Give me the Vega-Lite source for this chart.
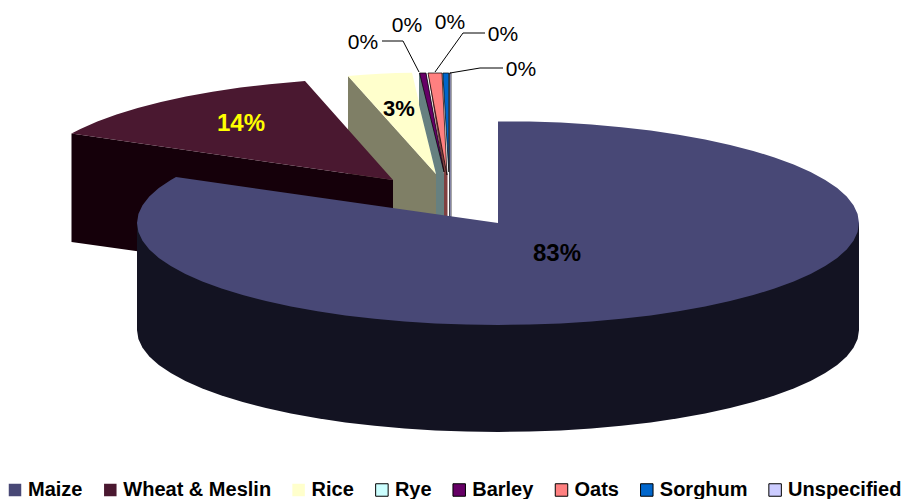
{
  "$schema": "https://vega.github.io/schema/vega-lite/v6.json",
  "width": 904,
  "height": 499,
  "padding": 0,
  "autosize": {"type": "none"},
  "background": "white",
  "config": {"view": {"stroke": null}},
  "datasets": {
    "outlines": [
      {"piece":"Rice side","seq":1,"x":348,"y":76},{"piece":"Rice side","seq":2,"x":436,"y":174},{"piece":"Rice side","seq":3,"x":436,"y":281},{"piece":"Rice side","seq":4,"x":348,"y":183},
      {"piece":"Rice","seq":1,"x":348,"y":76},{"piece":"Rice","seq":2,"x":364,"y":74.7},{"piece":"Rice","seq":3,"x":380,"y":73.7},{"piece":"Rice","seq":4,"x":396,"y":73},{"piece":"Rice","seq":5,"x":412,"y":72.7},{"piece":"Rice","seq":6,"x":436,"y":174},
      {"piece":"Wheat & Meslin side","seq":1,"x":71.5,"y":133.5},{"piece":"Wheat & Meslin side","seq":2,"x":393,"y":180},{"piece":"Wheat & Meslin side","seq":3,"x":393,"y":287},{"piece":"Wheat & Meslin side","seq":4,"x":71.5,"y":242},
      {"piece":"Wheat & Meslin","seq":1,"x":71.5,"y":133.5},{"piece":"Wheat & Meslin","seq":2,"x":80.4,"y":129},{"piece":"Wheat & Meslin","seq":3,"x":97.3,"y":121.5},{"piece":"Wheat & Meslin","seq":4,"x":116.5,"y":114.4},{"piece":"Wheat & Meslin","seq":5,"x":137.7,"y":107.9},{"piece":"Wheat & Meslin","seq":6,"x":160.9,"y":101.9},{"piece":"Wheat & Meslin","seq":7,"x":185.9,"y":96.4},{"piece":"Wheat & Meslin","seq":8,"x":212.5,"y":91.7},{"piece":"Wheat & Meslin","seq":9,"x":240.4,"y":87.6},{"piece":"Wheat & Meslin","seq":10,"x":269.5,"y":84.2},{"piece":"Wheat & Meslin","seq":11,"x":299.6,"y":81.5},{"piece":"Wheat & Meslin","seq":12,"x":305,"y":81},{"piece":"Wheat & Meslin","seq":13,"x":393,"y":180},
      {"piece":"Rye","seq":1,"x":419,"y":73},{"piece":"Rye","seq":2,"x":424,"y":73},{"piece":"Rye","seq":3,"x":436,"y":174},
      {"piece":"Rye side","seq":1,"x":419,"y":73},{"piece":"Rye side","seq":2,"x":419,"y":105},{"piece":"Rye side","seq":3,"x":436,"y":174},{"piece":"Rye side","seq":4,"x":436,"y":216},{"piece":"Rye side","seq":5,"x":444,"y":216},{"piece":"Rye side","seq":6,"x":444,"y":174},{"piece":"Rye side","seq":7,"x":426,"y":73},
      {"piece":"Oats side","seq":1,"x":428,"y":73},{"piece":"Oats side","seq":2,"x":430,"y":73},{"piece":"Oats side","seq":3,"x":447.5,"y":175},{"piece":"Oats side","seq":4,"x":447.5,"y":217},{"piece":"Oats side","seq":5,"x":444,"y":217},{"piece":"Oats side","seq":6,"x":444,"y":174},
      {"piece":"Barley","seq":1,"x":419.5,"y":73},{"piece":"Barley","seq":2,"x":426,"y":73},{"piece":"Barley","seq":3,"x":444,"y":172},{"piece":"Barley","seq":4,"x":419.5,"y":73},
      {"piece":"Oats","seq":1,"x":428,"y":73},{"piece":"Oats","seq":2,"x":442,"y":73},{"piece":"Oats","seq":3,"x":447,"y":175},{"piece":"Oats","seq":4,"x":428,"y":73},
      {"piece":"Sorghum","seq":1,"x":442.8,"y":73},{"piece":"Sorghum","seq":2,"x":448.8,"y":73},{"piece":"Sorghum","seq":3,"x":448.8,"y":172},{"piece":"Sorghum","seq":4,"x":442.8,"y":73},
      {"piece":"Unspecified","seq":1,"x":449.5,"y":73},{"piece":"Unspecified","seq":2,"x":451,"y":73},{"piece":"Unspecified","seq":3,"x":451,"y":217},{"piece":"Unspecified","seq":4,"x":449.5,"y":217},{"piece":"Unspecified","seq":5,"x":449.5,"y":73},
      {"piece":"Maize side","seq":1,"x":859,"y":223},{"piece":"Maize side","seq":2,"x":859,"y":330},{"piece":"Maize side","seq":3,"x":857.6,"y":338.9},{"piece":"Maize side","seq":4,"x":853.5,"y":347.7},{"piece":"Maize side","seq":5,"x":846.7,"y":356.4},{"piece":"Maize side","seq":6,"x":837.2,"y":364.9},{"piece":"Maize side","seq":7,"x":825.2,"y":373.1},{"piece":"Maize side","seq":8,"x":810.6,"y":381},{"piece":"Maize side","seq":9,"x":793.7,"y":388.5},{"piece":"Maize side","seq":10,"x":774.5,"y":395.6},{"piece":"Maize side","seq":11,"x":753.3,"y":402.1},{"piece":"Maize side","seq":12,"x":730.1,"y":408.1},{"piece":"Maize side","seq":13,"x":705.1,"y":413.6},{"piece":"Maize side","seq":14,"x":678.5,"y":418.3},{"piece":"Maize side","seq":15,"x":650.6,"y":422.4},{"piece":"Maize side","seq":16,"x":621.5,"y":425.8},{"piece":"Maize side","seq":17,"x":591.4,"y":428.5},{"piece":"Maize side","seq":18,"x":560.7,"y":430.4},{"piece":"Maize side","seq":19,"x":529.5,"y":431.6},{"piece":"Maize side","seq":20,"x":498,"y":432},{"piece":"Maize side","seq":21,"x":466.5,"y":431.6},{"piece":"Maize side","seq":22,"x":435.3,"y":430.4},{"piece":"Maize side","seq":23,"x":404.6,"y":428.5},{"piece":"Maize side","seq":24,"x":374.5,"y":425.8},{"piece":"Maize side","seq":25,"x":345.4,"y":422.4},{"piece":"Maize side","seq":26,"x":317.5,"y":418.3},{"piece":"Maize side","seq":27,"x":290.9,"y":413.6},{"piece":"Maize side","seq":28,"x":265.9,"y":408.1},{"piece":"Maize side","seq":29,"x":242.7,"y":402.1},{"piece":"Maize side","seq":30,"x":221.5,"y":395.6},{"piece":"Maize side","seq":31,"x":202.3,"y":388.5},{"piece":"Maize side","seq":32,"x":185.4,"y":381},{"piece":"Maize side","seq":33,"x":170.8,"y":373.1},{"piece":"Maize side","seq":34,"x":158.8,"y":364.9},{"piece":"Maize side","seq":35,"x":149.3,"y":356.4},{"piece":"Maize side","seq":36,"x":142.5,"y":347.7},{"piece":"Maize side","seq":37,"x":138.4,"y":338.9},{"piece":"Maize side","seq":38,"x":137,"y":330},{"piece":"Maize side","seq":39,"x":137,"y":223},
      {"piece":"Maize","seq":1,"x":498,"y":121.5},{"piece":"Maize","seq":2,"x":529.5,"y":121.4},{"piece":"Maize","seq":3,"x":560.7,"y":122.6},{"piece":"Maize","seq":4,"x":591.4,"y":124.5},{"piece":"Maize","seq":5,"x":621.5,"y":127.2},{"piece":"Maize","seq":6,"x":650.6,"y":130.6},{"piece":"Maize","seq":7,"x":678.5,"y":134.7},{"piece":"Maize","seq":8,"x":705.1,"y":139.4},{"piece":"Maize","seq":9,"x":730.1,"y":144.9},{"piece":"Maize","seq":10,"x":753.3,"y":150.9},{"piece":"Maize","seq":11,"x":774.5,"y":157.4},{"piece":"Maize","seq":12,"x":793.7,"y":164.5},{"piece":"Maize","seq":13,"x":810.6,"y":172},{"piece":"Maize","seq":14,"x":825.2,"y":179.9},{"piece":"Maize","seq":15,"x":837.2,"y":188.1},{"piece":"Maize","seq":16,"x":846.7,"y":196.6},{"piece":"Maize","seq":17,"x":853.5,"y":205.3},{"piece":"Maize","seq":18,"x":857.6,"y":214.1},{"piece":"Maize","seq":19,"x":859,"y":223},{"piece":"Maize","seq":20,"x":857.6,"y":231.9},{"piece":"Maize","seq":21,"x":853.5,"y":240.7},{"piece":"Maize","seq":22,"x":846.7,"y":249.4},{"piece":"Maize","seq":23,"x":837.2,"y":257.9},{"piece":"Maize","seq":24,"x":825.2,"y":266.1},{"piece":"Maize","seq":25,"x":810.6,"y":274},{"piece":"Maize","seq":26,"x":793.7,"y":281.5},{"piece":"Maize","seq":27,"x":774.5,"y":288.6},{"piece":"Maize","seq":28,"x":753.3,"y":295.1},{"piece":"Maize","seq":29,"x":730.1,"y":301.1},{"piece":"Maize","seq":30,"x":705.1,"y":306.6},{"piece":"Maize","seq":31,"x":678.5,"y":311.3},{"piece":"Maize","seq":32,"x":650.6,"y":315.4},{"piece":"Maize","seq":33,"x":621.5,"y":318.8},{"piece":"Maize","seq":34,"x":591.4,"y":321.5},{"piece":"Maize","seq":35,"x":560.7,"y":323.4},{"piece":"Maize","seq":36,"x":529.5,"y":324.6},{"piece":"Maize","seq":37,"x":498,"y":325},{"piece":"Maize","seq":38,"x":466.5,"y":324.6},{"piece":"Maize","seq":39,"x":435.3,"y":323.4},{"piece":"Maize","seq":40,"x":404.6,"y":321.5},{"piece":"Maize","seq":41,"x":374.5,"y":318.8},{"piece":"Maize","seq":42,"x":345.4,"y":315.4},{"piece":"Maize","seq":43,"x":317.5,"y":311.3},{"piece":"Maize","seq":44,"x":290.9,"y":306.6},{"piece":"Maize","seq":45,"x":265.9,"y":301.1},{"piece":"Maize","seq":46,"x":242.7,"y":295.1},{"piece":"Maize","seq":47,"x":221.5,"y":288.6},{"piece":"Maize","seq":48,"x":202.3,"y":281.5},{"piece":"Maize","seq":49,"x":185.4,"y":274},{"piece":"Maize","seq":50,"x":170.8,"y":266.1},{"piece":"Maize","seq":51,"x":158.8,"y":257.9},{"piece":"Maize","seq":52,"x":149.3,"y":249.4},{"piece":"Maize","seq":53,"x":142.5,"y":240.7},{"piece":"Maize","seq":54,"x":138.4,"y":231.9},{"piece":"Maize","seq":55,"x":137,"y":223},{"piece":"Maize","seq":56,"x":138.4,"y":214.1},{"piece":"Maize","seq":57,"x":142.5,"y":205.3},{"piece":"Maize","seq":58,"x":149.3,"y":196.6},{"piece":"Maize","seq":59,"x":158.8,"y":188.1},{"piece":"Maize","seq":60,"x":170.8,"y":179.9},{"piece":"Maize","seq":61,"x":176,"y":177},{"piece":"Maize","seq":62,"x":498,"y":223}
    ],
    "leaders": [
      {"slice":"Rye","seq":1,"x":382,"y":41},{"slice":"Rye","seq":2,"x":403,"y":41},{"slice":"Rye","seq":3,"x":419,"y":72},
      {"slice":"Oats","seq":1,"x":435,"y":72},{"slice":"Oats","seq":2,"x":463,"y":33},{"slice":"Oats","seq":3,"x":485,"y":33},
      {"slice":"Unspecified","seq":1,"x":450,"y":73},{"slice":"Unspecified","seq":2,"x":480,"y":68},{"slice":"Unspecified","seq":3,"x":503,"y":68}
    ],
    "shares": [
      {"crop":"Maize","label":"83%","x":557,"y":254},
      {"crop":"Wheat & Meslin","label":"14%","x":241,"y":124},
      {"crop":"Rice","label":"3%","x":399,"y":109},
      {"crop":"Rye","label":"0%","x":363,"y":43},
      {"crop":"Barley","label":"0%","x":407,"y":26},
      {"crop":"Oats","label":"0%","x":450,"y":23},
      {"crop":"Sorghum","label":"0%","x":503,"y":35},
      {"crop":"Unspecified","label":"0%","x":521,"y":70}
    ]
  },
  "layer": [
    {
      "data": {"name": "outlines"},
      "transform": [{"filter": {"field": "piece", "oneOf": ["Rice side", "Rice", "Wheat & Meslin side", "Wheat & Meslin", "Rye", "Rye side", "Oats side"]}}],
      "mark": {"type": "line", "filled": true, "strokeWidth": 0},
      "encoding": {
        "x": {"field": "x", "type": "quantitative", "scale": {"domain": [0, 904]}, "axis": null},
        "y": {"field": "y", "type": "quantitative", "scale": {"domain": [499, 0]}, "axis": null},
        "order": {"field": "seq"},
        "color": {
          "field": "piece",
          "type": "nominal",
          "scale": {
            "domain": ["Maize", "Wheat & Meslin", "Rice", "Rye", "Barley", "Oats", "Sorghum", "Unspecified", "Maize side", "Wheat & Meslin side", "Rice side", "Rye side", "Oats side"],
            "range": ["#484876", "#4A1830", "#FFFFCC", "#CCFFFF", "#660066", "#FF8080", "#0066CC", "#CCCCFF", "#131322", "#15000A", "#7F7F66", "#668080", "#804040"]
          },
          "legend": {
            "values": ["Maize", "Wheat & Meslin", "Rice", "Rye", "Barley", "Oats", "Sorghum", "Unspecified"],
            "orient": "none",
            "legendX": 5,
            "legendY": 480,
            "direction": "horizontal",
            "columns": 8,
            "title": null,
            "symbolType": "square",
            "symbolSize": 156,
            "labelFont": "Liberation Sans",
            "labelFontWeight": "bold",
            "labelFontSize": 20,
            "labelColor": "#000000",
            "labelLimit": 300,
            "labelOffset": 3,
            "columnPadding": 17.3,
            "encoding": {
              "symbols": {
                "stroke": {
                  "condition": {"test": "indexof(['Rye','Barley','Oats','Sorghum','Unspecified'], datum.value) >= 0", "value": "#000000"},
                  "value": "transparent"
                },
                "strokeWidth": {"value": 1}
              }
            }
          }
        }
      }
    },
    {
      "data": {"name": "outlines"},
      "transform": [{"filter": {"field": "piece", "oneOf": ["Barley", "Oats", "Sorghum", "Unspecified"]}}],
      "mark": {"type": "line", "filled": true, "stroke": "#000000", "strokeWidth": 0.7},
      "encoding": {
        "x": {"field": "x", "type": "quantitative", "scale": {"domain": [0, 904]}, "axis": null},
        "y": {"field": "y", "type": "quantitative", "scale": {"domain": [499, 0]}, "axis": null},
        "order": {"field": "seq"},
        "color": {"field": "piece", "type": "nominal"}
      }
    },
    {
      "data": {"name": "outlines"},
      "transform": [{"filter": {"field": "piece", "oneOf": ["Maize side", "Maize"]}}],
      "mark": {"type": "line", "filled": true, "strokeWidth": 0},
      "encoding": {
        "x": {"field": "x", "type": "quantitative", "scale": {"domain": [0, 904]}, "axis": null},
        "y": {"field": "y", "type": "quantitative", "scale": {"domain": [499, 0]}, "axis": null},
        "order": {"field": "seq"},
        "color": {"field": "piece", "type": "nominal"}
      }
    },
    {
      "data": {"name": "leaders"},
      "mark": {"type": "line", "color": "#000000", "strokeWidth": 1},
      "encoding": {
        "x": {"field": "x", "type": "quantitative", "scale": {"domain": [0, 904]}, "axis": null},
        "y": {"field": "y", "type": "quantitative", "scale": {"domain": [499, 0]}, "axis": null},
        "order": {"field": "seq"},
        "detail": {"field": "slice"}
      }
    },
    {
      "data": {"name": "shares"},
      "transform": [{"filter": {"field": "label", "equal": "0%"}}],
      "mark": {"type": "text", "font": "Liberation Sans", "fontSize": 21, "color": "#000000", "align": "center", "baseline": "middle"},
      "encoding": {
        "x": {"field": "x", "type": "quantitative", "scale": {"domain": [0, 904]}, "axis": null},
        "y": {"field": "y", "type": "quantitative", "scale": {"domain": [499, 0]}, "axis": null},
        "text": {"field": "label"}
      }
    },
    {
      "data": {"name": "shares"},
      "transform": [{"filter": {"field": "label", "equal": "83%"}}],
      "mark": {"type": "text", "font": "Liberation Sans", "fontWeight": "bold", "fontSize": 24, "color": "#000000", "align": "center", "baseline": "middle"},
      "encoding": {
        "x": {"field": "x", "type": "quantitative", "scale": {"domain": [0, 904]}, "axis": null},
        "y": {"field": "y", "type": "quantitative", "scale": {"domain": [499, 0]}, "axis": null},
        "text": {"field": "label"}
      }
    },
    {
      "data": {"name": "shares"},
      "transform": [{"filter": {"field": "label", "equal": "14%"}}],
      "mark": {"type": "text", "font": "Liberation Sans", "fontWeight": "bold", "fontSize": 24, "color": "#FFFF00", "align": "center", "baseline": "middle"},
      "encoding": {
        "x": {"field": "x", "type": "quantitative", "scale": {"domain": [0, 904]}, "axis": null},
        "y": {"field": "y", "type": "quantitative", "scale": {"domain": [499, 0]}, "axis": null},
        "text": {"field": "label"}
      }
    },
    {
      "data": {"name": "shares"},
      "transform": [{"filter": {"field": "label", "equal": "3%"}}],
      "mark": {"type": "text", "font": "Liberation Sans", "fontWeight": "bold", "fontSize": 22, "color": "#000000", "align": "center", "baseline": "middle"},
      "encoding": {
        "x": {"field": "x", "type": "quantitative", "scale": {"domain": [0, 904]}, "axis": null},
        "y": {"field": "y", "type": "quantitative", "scale": {"domain": [499, 0]}, "axis": null},
        "text": {"field": "label"}
      }
    }
  ]
}
